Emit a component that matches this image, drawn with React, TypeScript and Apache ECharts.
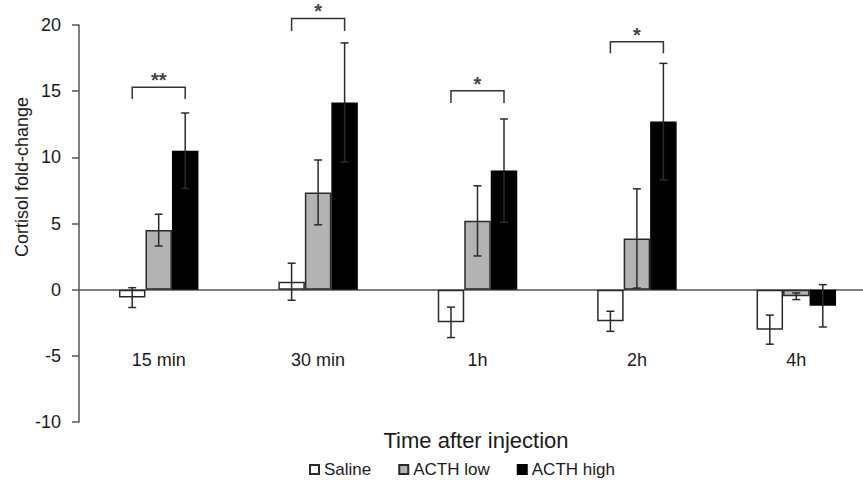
import React, { useEffect, useRef } from "react";
import * as echarts from "echarts";

const categories = ["15 min", "30 min", "1h", "2h", "4h"];
const seriesNames = ["Saline", "ACTH low", "ACTH high"];
const saline = [-0.6, 0.6, -2.47, -2.39, -3.02];
const salineErr = [0.75, 1.4, 1.15, 0.76, 1.1];
const acthLow = [4.5, 7.35, 5.2, 3.87, -0.5];
const acthLowErr = [1.2, 2.45, 2.65, 3.75, 0.25];
const acthHigh = [10.5, 14.15, 9.0, 12.7, -1.22];
const acthHighErr = [2.85, 4.5, 3.9, 4.4, 1.6];
// [category index, bracket top, bracket leg end, label]
const brackets: [number, number, number, string][] = [
  [0, 15.3, 14.4, "**"],
  [1, 20.5, 19.55, "*"],
  [2, 15.04, 14.1, "*"],
  [3, 18.74, 17.86, "*"],
];
const yTicks = { min: -10, max: 20, interval: 5 };

const FONT = "'Liberation Sans', Arial, sans-serif";
const BAR_W = 26.5;

export default function App() {
  const ref = useRef<HTMLDivElement>(null);
  useEffect(() => {
    if (!ref.current) return;
    const chart = echarts.init(ref.current, null, { renderer: "svg" });

    const errSeries = (vals: number[], errs: number[], idx: number) => ({
      type: "custom",
      z: 5,
      silent: true,
      data: vals.map((v, i) => [i, v, errs[i]]),
      renderItem: (params: any, api: any) => {
        const c = api.value(0);
        const v = api.value(1);
        const e = api.value(2);
        const off = (idx - 1) * BAR_W;
        const top = api.coord([c, v + e]);
        const bot = api.coord([c, v - e]);
        const x = top[0] + off;
        const cap = 4;
        const st = { stroke: "#2a2a2a", lineWidth: 1.5, fill: "none" };
        return {
          type: "group",
          children: [
            { type: "line", shape: { x1: x, y1: top[1], x2: x, y2: bot[1] }, style: st },
            { type: "line", shape: { x1: x - cap, y1: top[1], x2: x + cap, y2: top[1] }, style: st },
            { type: "line", shape: { x1: x - cap, y1: bot[1], x2: x + cap, y2: bot[1] }, style: st },
          ],
        };
      },
    });

    const option: any = {
      animation: false,
      textStyle: { fontFamily: FONT },
      grid: {
        left: 79,
        right: -13,
        top: 25,
        bottom: 58,
        containLabel: false,
        outerBoundsMode: "none",
      },
      xAxis: {
        type: "category",
        data: categories,
        axisLine: { onZero: true, lineStyle: { color: "#555", width: 1.5 } },
        axisTick: { show: false },
        axisLabel: { margin: -71, fontSize: 18, color: "#1a1a1a", fontFamily: FONT },
      },
      yAxis: {
        type: "value",
        min: yTicks.min,
        max: yTicks.max,
        interval: yTicks.interval,
        splitLine: { show: false },
        axisLine: { show: true, lineStyle: { color: "#555", width: 1.5 } },
        axisTick: { show: true, length: 7, lineStyle: { color: "#555", width: 1.5 } },
        axisLabel: { margin: 18, fontSize: 18, color: "#1a1a1a", fontFamily: FONT },
      },
      legend: {
        data: seriesNames,
        left: 304,
        top: 456,
        icon: "rect",
        itemWidth: 9,
        itemHeight: 9,
        itemGap: 27,
        textStyle: { fontSize: 17, color: "#1a1a1a", fontFamily: FONT },
      },
      series: [
        {
          name: "Saline",
          type: "bar",
          data: saline,
          barWidth: BAR_W,
          barGap: "0%",
          itemStyle: { color: "#ffffff", borderColor: "#2a2a2a", borderWidth: 1.5 },
        },
        {
          name: "ACTH low",
          type: "bar",
          data: acthLow,
          barWidth: BAR_W,
          barGap: "0%",
          itemStyle: { color: "#b3b3b3", borderColor: "#2a2a2a", borderWidth: 1.5 },
        },
        {
          name: "ACTH high",
          type: "bar",
          data: acthHigh,
          barWidth: BAR_W,
          barGap: "0%",
          itemStyle: { color: "#000000", borderColor: "#000000", borderWidth: 1.5 },
        },
        errSeries(saline, salineErr, 0),
        errSeries(acthLow, acthLowErr, 1),
        errSeries(acthHigh, acthHighErr, 2),
        {
          type: "custom",
          z: 6,
          silent: true,
          clip: false,
          data: brackets.map((b) => [b[0], b[1], b[2], b[3]]),
          renderItem: (params: any, api: any) => {
            const b = brackets[params.dataIndex];
            const t = api.coord([b[0], b[1]]);
            const l = api.coord([b[0], b[2]]);
            const xl = t[0] - BAR_W;
            const xr = t[0] + BAR_W;
            return {
              type: "group",
              children: [
                {
                  type: "polyline",
                  shape: { points: [[xl, l[1]], [xl, t[1]], [xr, t[1]], [xr, l[1]]] },
                  style: { stroke: "#333", lineWidth: 1.5, fill: "none" },
                },
                {
                  type: "text",
                  style: {
                    text: b[3],
                    x: t[0],
                    y: t[1] + 3,
                    align: "center",
                    verticalAlign: "bottom",
                    fontSize: 20,
                    fontWeight: "bold",
                    fontFamily: FONT,
                    fill: "#444",
                  },
                },
              ],
            };
          },
        },
      ],
      graphic: [
        {
          type: "text",
          x: 22,
          y: 177,
          rotation: Math.PI / 2,
          style: {
            text: "Cortisol fold-change",
            textAlign: "center",
            textVerticalAlign: "middle",
            fontSize: 18,
            fontFamily: FONT,
            fill: "#1a1a1a",
          },
        },
        {
          type: "text",
          x: 476,
          y: 440,
          style: {
            text: "Time after injection",
            textAlign: "center",
            textVerticalAlign: "middle",
            fontSize: 22,
            fontFamily: FONT,
            fill: "#1a1a1a",
          },
        },
      ],
    };
    chart.setOption(option);
    return () => chart.dispose();
  }, []);
  return (
    <div
      ref={ref}
      style={{ position: "absolute", left: 0, top: 0, width: 863, height: 480 }}
    />
  );
}
